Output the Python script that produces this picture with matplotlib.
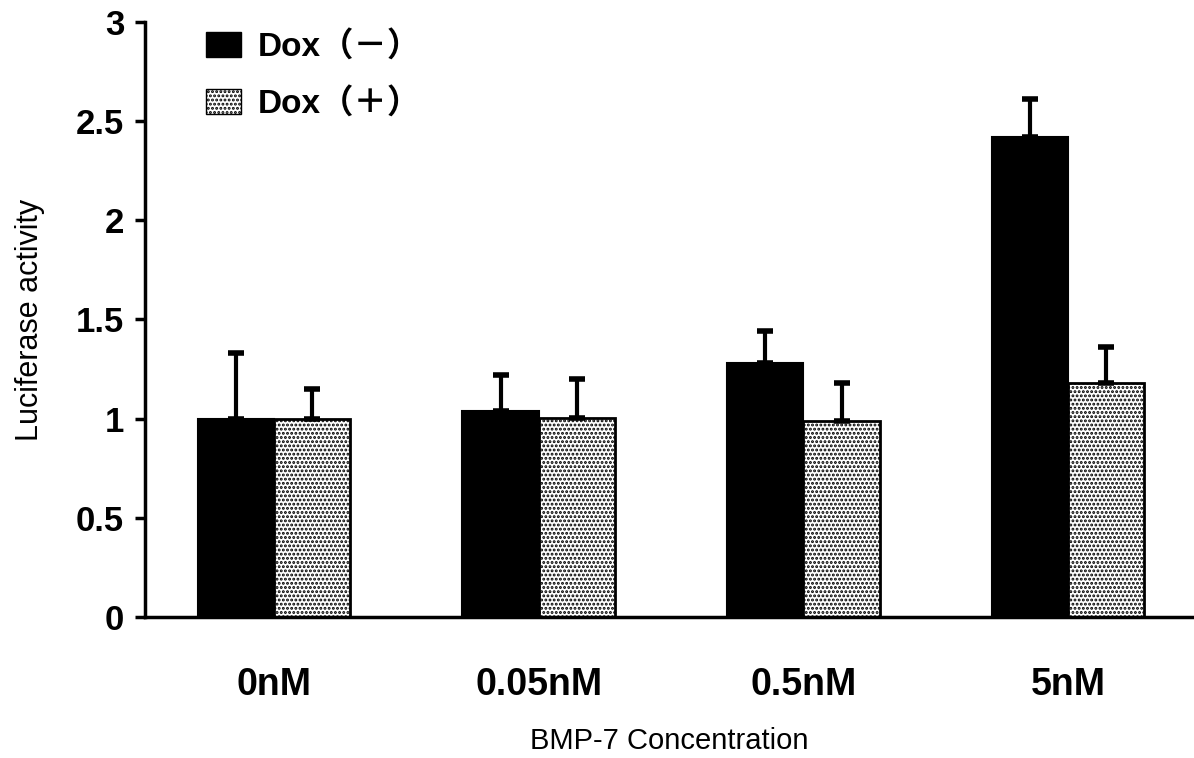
import matplotlib
matplotlib.use('Agg')
import matplotlib.pyplot as plt
from matplotlib.patches import Patch
import numpy as np

# BMP-7 luciferase reporter assay
concentrations = ['0nM', '0.05nM', '0.5nM', '5nM']
dox_minus = [1.00, 1.04, 1.28, 2.42]
dox_minus_err = [0.33, 0.18, 0.16, 0.19]
dox_plus = [1.00, 1.005, 0.99, 1.18]
dox_plus_err = [0.15, 0.195, 0.19, 0.18]

plt.rcParams['font.family'] = ['Liberation Sans', 'Noto Sans CJK JP']
plt.rcParams['hatch.linewidth'] = 1.4

fig = plt.figure(figsize=(11.94, 7.58), dpi=100)
ax = fig.add_axes([0.1214, 0.186, 0.8786, 0.785])

x = np.arange(len(concentrations))
w = 0.288

ax.bar(x - w / 2, dox_minus, w, color='black', edgecolor='black', linewidth=1.5)
ax.bar(x + w / 2, dox_plus, w, color='white', edgecolor='black', linewidth=2,
       hatch='....')

err_kw = dict(fmt='none', ecolor='black', elinewidth=3, capsize=6, capthick=4)
ax.errorbar(x - w / 2, dox_minus, yerr=[np.zeros(4), dox_minus_err], **err_kw)
ax.errorbar(x + w / 2, dox_plus, yerr=[np.zeros(4), dox_plus_err], **err_kw)

ax.set_xlim(-0.487, 3.475)
ax.set_ylim(0, 3)
ax.set_yticks([0, 0.5, 1, 1.5, 2, 2.5, 3])
ax.set_yticklabels(['0', '0.5', '1', '1.5', '2', '2.5', '3'],
                   fontsize=25, fontweight='bold')
ax.set_xticks(x)
ax.set_xticklabels(concentrations, fontsize=27, fontweight='bold')
ax.tick_params(axis='x', length=0, pad=36)
ax.tick_params(axis='y', direction='out', length=7, width=2.5, pad=8)

for side in ['top', 'right']:
    ax.spines[side].set_visible(False)
for side in ['left', 'bottom']:
    ax.spines[side].set_linewidth(2.5)

ax.set_ylabel('Luciferase activity', fontsize=22, labelpad=22)
ax.set_xlabel('BMP-7 Concentration', fontsize=21, labelpad=17)

handles = [Patch(facecolor='black', edgecolor='black'),
           Patch(facecolor='white', edgecolor='black', hatch='....')]
ax.legend(handles, ['Dox（－）', 'Dox（＋）'], loc='upper left',
          bbox_to_anchor=(0.03, 1.035), frameon=False,
          prop={'weight': 'bold', 'size': 24},
          handlelength=1.05, handleheight=0.8, labelspacing=0.75,
          handletextpad=0.5)

fig.savefig('out.png', dpi=100)
